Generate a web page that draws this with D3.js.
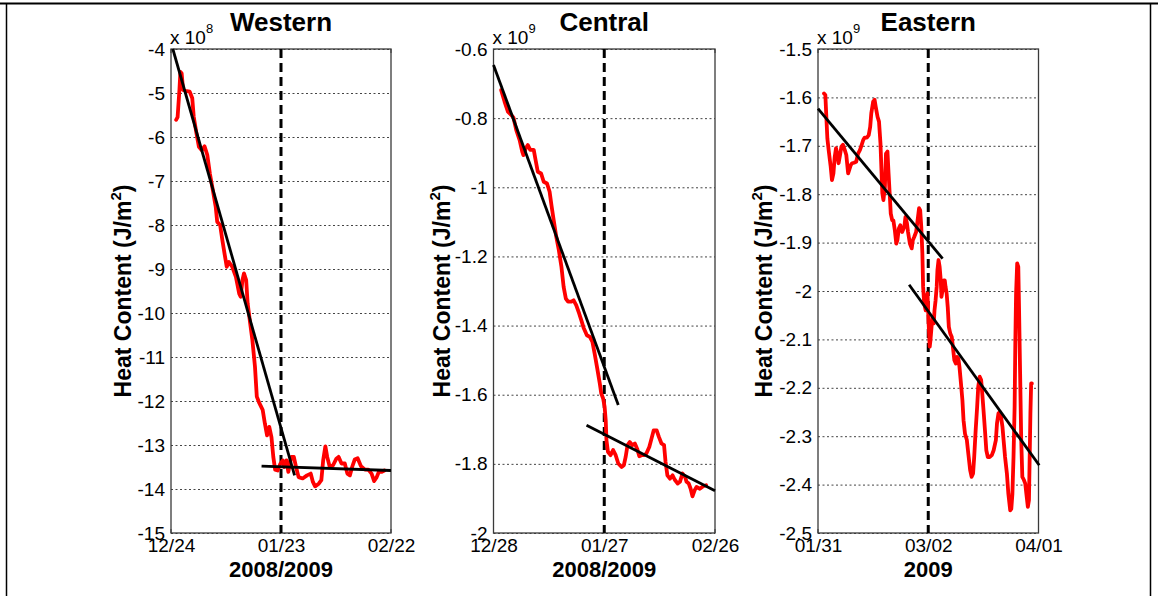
<!DOCTYPE html>
<html>
<head>
<meta charset="utf-8">
<script src="https://cdn.jsdelivr.net/npm/d3@7"></script>
<style>
  body { margin: 0; background: #fff; }
  svg { display: block; }
  text { font-family: "Liberation Sans", Arial, sans-serif; fill: #000; }
</style>
</head>
<body>
<svg id="chart" width="1158" height="596"></svg>
<script>
// Days since the start of each window (60-day windows), heat content in axis units
const westDays = [1.4, 1.8, 2.3, 2.56, 2.9, 3.3, 3.9, 5.1, 5.8, 6.2, 6.95, 7.6, 8.4, 9.15, 9.9, 10.6, 11.25, 12.2, 12.6, 13.4, 14.0, 14.6, 15.2, 15.8, 16.7, 17.7, 18.6, 19.0, 19.5, 19.9, 20.5, 20.9, 21.6, 22.2, 22.9, 23.4, 24.1, 25.0, 25.6, 26.2, 26.8, 27.4, 27.9, 28.4, 29.1, 29.8, 30.5, 30.9, 31.5, 32.0, 32.8, 33.5, 34.1, 34.8, 35.9, 37.1, 38.1, 38.7, 39.3, 40.3, 41.0, 41.5, 42.1, 42.6, 43.3, 44.2, 45.1, 45.7, 46.5, 47.4, 48.1, 48.8, 49.4, 50.1, 50.9, 51.8, 52.9, 53.8, 54.7, 55.4, 56.1, 56.7, 57.5, 58.2];
const westHeat = [-5.61, -5.55, -4.93, -4.52, -4.55, -4.93, -4.95, -4.97, -5.12, -5.54, -5.92, -6.22, -6.30, -6.21, -6.41, -6.83, -7.13, -7.59, -7.93, -8.0, -8.34, -8.65, -8.95, -8.84, -8.95, -9.18, -9.56, -9.63, -9.25, -9.1, -9.25, -9.78, -10.24, -10.62, -11.22, -11.9, -12.05, -12.2, -12.51, -12.78, -12.59, -12.82, -13.27, -13.56, -13.58, -13.43, -13.35, -13.5, -13.35, -13.61, -13.27, -13.27, -13.5, -13.73, -13.76, -13.69, -13.65, -13.84, -13.94, -13.88, -13.8, -13.35, -13.03, -13.27, -13.5, -13.46, -13.31, -13.27, -13.42, -13.42, -13.65, -13.69, -13.5, -13.33, -13.3, -13.48, -13.56, -13.56, -13.65, -13.82, -13.73, -13.61, -13.61, -13.58];

const centralDays = [2.08, 2.99, 3.9, 4.8, 5.4, 6.15, 7.06, 7.78, 8.1, 8.7, 9.3, 9.95, 10.9, 11.4, 12.0, 12.9, 13.6, 14.5, 15.2, 15.7, 16.3, 17.0, 17.7, 18.4, 19.0, 19.6, 20.2, 21.1, 21.7, 22.4, 23.2, 23.8, 24.4, 25.3, 26.1, 26.8, 27.4, 28.1, 28.8, 29.2, 29.7, 30.1, 30.4, 30.6, 31.0, 31.7, 32.4, 33.1, 33.8, 34.7, 35.3, 35.8, 36.3, 36.9, 37.6, 38.3, 38.9, 39.5, 40.1, 40.7, 41.4, 42.2, 42.8, 43.4, 44.2, 44.8, 45.5, 46.2, 46.6, 47.1, 47.8, 48.5, 49.1, 49.9, 50.5, 51.2, 51.9, 52.3, 52.9, 53.4, 53.9, 54.5, 55.0, 55.9, 56.8, 57.6];
const centralHeat = [-0.719, -0.752, -0.781, -0.791, -0.798, -0.834, -0.863, -0.897, -0.907, -0.888, -0.878, -0.892, -0.892, -0.921, -0.955, -0.96, -0.984, -0.989, -1.013, -1.052, -1.095, -1.143, -1.182, -1.23, -1.288, -1.322, -1.331, -1.331, -1.327, -1.341, -1.365, -1.385, -1.406, -1.428, -1.433, -1.447, -1.481, -1.524, -1.568, -1.597, -1.611, -1.635, -1.674, -1.732, -1.765, -1.775, -1.76, -1.775, -1.799, -1.809, -1.804, -1.78, -1.746, -1.737, -1.746, -1.741, -1.756, -1.778, -1.775, -1.775, -1.77, -1.751, -1.727, -1.703, -1.703, -1.722, -1.741, -1.746, -1.794, -1.833, -1.843, -1.833, -1.846, -1.857, -1.852, -1.828, -1.838, -1.852, -1.857, -1.872, -1.894, -1.876, -1.867, -1.872, -1.865, -1.862];

const eastDays = [1.64, 2.0, 2.27, 2.55, 2.9, 3.45, 3.8, 4.2, 4.55, 4.9, 5.3, 5.6, 6.0, 6.36, 6.8, 7.3, 7.7, 8.2, 8.5, 8.9, 9.3, 9.8, 10.4, 10.9, 11.4, 11.8, 12.3, 12.7, 13.3, 13.8, 14.2, 14.5, 15.0, 15.4, 15.7, 16.2, 16.6, 17.0, 17.3, 17.5, 17.8, 18.2, 18.5, 18.9, 19.2, 19.5, 19.8, 20.2, 20.5, 20.9, 21.3, 21.6, 22.0, 22.4, 22.9, 23.5, 23.8, 24.2, 24.5, 25.0, 25.5, 25.8, 26.2, 26.7, 27.1, 27.5, 27.8, 28.1, 28.4, 28.6, 28.9, 29.3, 29.5, 29.8, 30.1, 30.4, 30.6, 30.9, 31.2, 31.5, 31.7, 32.0, 32.3, 32.5, 32.8, 33.1, 33.4, 33.6, 33.9, 34.2, 34.5, 34.7, 35.0, 35.3, 35.6, 36.0, 36.4, 36.7, 37.1, 37.5, 37.8, 38.2, 38.5, 38.9, 39.3, 39.6, 40.0, 40.5, 40.9, 41.4, 41.8, 42.2, 42.5, 42.9, 43.3, 43.6, 44.0, 44.4, 44.7, 45.1, 45.5, 45.8, 46.2, 46.7, 47.3, 47.8, 48.4, 48.7, 49.1, 49.5, 49.8, 50.2, 50.5, 50.9, 51.4, 51.8, 52.3, 52.6, 52.9, 53.2, 53.5, 53.7, 53.9, 54.2, 54.5, 54.7, 55.0, 55.3, 55.6, 56.0, 56.4, 56.7, 57.1, 57.4, 57.6, 57.8, 58.0, 58.2];
const eastHeat = [-1.592, -1.595, -1.64, -1.685, -1.709, -1.743, -1.771, -1.757, -1.723, -1.705, -1.719, -1.736, -1.719, -1.702, -1.698, -1.709, -1.719, -1.757, -1.75, -1.74, -1.736, -1.735, -1.733, -1.716, -1.709, -1.7, -1.688, -1.683, -1.683, -1.678, -1.661, -1.633, -1.609, -1.605, -1.619, -1.64, -1.65, -1.695, -1.757, -1.798, -1.812, -1.785, -1.716, -1.712, -1.757, -1.798, -1.84, -1.854, -1.854, -1.874, -1.902, -1.895, -1.871, -1.864, -1.878, -1.867, -1.847, -1.86, -1.878, -1.902, -1.912, -1.895, -1.888, -1.878, -1.854, -1.829, -1.833, -1.867, -1.922, -1.991, -2.026, -2.04, -2.019, -2.005, -2.067, -2.115, -2.102, -2.074, -2.053, -2.067, -2.04, -2.019, -1.991, -1.957, -1.936, -1.95, -1.978, -2.012, -1.998, -1.978, -1.978, -1.991, -2.005, -2.033, -2.074, -2.088, -2.095, -2.115, -2.143, -2.15, -2.136, -2.14, -2.157, -2.191, -2.226, -2.267, -2.295, -2.308, -2.336, -2.37, -2.384, -2.377, -2.343, -2.288, -2.24, -2.198, -2.177, -2.184, -2.212, -2.253, -2.295, -2.329, -2.343, -2.343, -2.339, -2.329, -2.308, -2.274, -2.253, -2.25, -2.26, -2.281, -2.308, -2.343, -2.377, -2.419, -2.453, -2.45, -2.419, -2.343, -2.24, -2.102, -2.005, -1.943, -1.95, -2.033, -2.171, -2.308, -2.384, -2.39, -2.398, -2.419, -2.446, -2.432, -2.343, -2.253, -2.191, -2.191];

// Linear trend segments: [startDay, endDay] and [startValue, endValue]
const westFitDays = [[0.5, 33.7], [24.7, 60]];
const westFitHeat = [[-4.0, -13.69], [-13.48, -13.58]];
const centralFitDays = [[0, 33.8], [25.2, 60]];
const centralFitHeat = [[-0.646, -1.630], [-1.688, -1.878]];
const eastFitDays = [[0, 33.9], [24.8, 60.2]];
const eastFitHeat = [[-1.623, -1.933], [-1.987, -2.360]];

// Tick values and labels
const westYTicks = [-4, -5, -6, -7, -8, -9, -10, -11, -12, -13, -14, -15];
const westYLabels = ["-4", "-5", "-6", "-7", "-8", "-9", "-10", "-11", "-12", "-13", "-14", "-15"];
const centralYTicks = [-0.6, -0.8, -1.0, -1.2, -1.4, -1.6, -1.8, -2.0];
const centralYLabels = ["-0.6", "-0.8", "-1", "-1.2", "-1.4", "-1.6", "-1.8", "-2"];
const eastYTicks = [-1.5, -1.6, -1.7, -1.8, -1.9, -2.0, -2.1, -2.2, -2.3, -2.4, -2.5];
const eastYLabels = ["-1.5", "-1.6", "-1.7", "-1.8", "-1.9", "-2", "-2.1", "-2.2", "-2.3", "-2.4", "-2.5"];
const xTickDays = [0, 30, 60];
const westXLabels = ["12/24", "01/23", "02/22"];
const centralXLabels = ["12/28", "01/27", "02/26"];
const eastXLabels = ["01/31", "03/02", "04/01"];
const titles = ["Western", "Central", "Eastern"];
const yearLabels = ["2008/2009", "2008/2009", "2009"];
const exponents = ["8", "9", "9"];
const onsetDay = 30;

const panels = [
  { days: westDays, heat: westHeat, fitD: westFitDays, fitH: westFitHeat,
    yTicks: westYTicks, yLabels: westYLabels, xLabels: westXLabels,
    left: 171, right: 391, labelX: 131 },
  { days: centralDays, heat: centralHeat, fitD: centralFitDays, fitH: centralFitHeat,
    yTicks: centralYTicks, yLabels: centralYLabels, xLabels: centralXLabels,
    left: 493.5, right: 715, labelX: 450 },
  { days: eastDays, heat: eastHeat, fitD: eastFitDays, fitH: eastFitHeat,
    yTicks: eastYTicks, yLabels: eastYLabels, xLabels: eastXLabels,
    left: 818, right: 1038.5, labelX: 772 }
];

const plotTop = 49, plotBottom = 533;
const svg = d3.select("#chart");

// outer frame
svg.append("line").attr("x1", 0).attr("x2", 1158).attr("y1", 3.5).attr("y2", 3.5)
  .attr("stroke", "#000").attr("stroke-width", 2);
svg.append("line").attr("x1", 6.5).attr("x2", 6.5).attr("y1", 3).attr("y2", 596)
  .attr("stroke", "#000").attr("stroke-width", 1.5);
svg.append("line").attr("x1", 1150.5).attr("x2", 1150.5).attr("y1", 3).attr("y2", 596)
  .attr("stroke", "#000").attr("stroke-width", 1.5);

panels.forEach((p, i) => {
  const x = d3.scaleLinear().domain([0, 60]).range([p.left, p.right]);
  const yDom = [p.yTicks[p.yTicks.length - 1], p.yTicks[0]];
  const y = d3.scaleLinear().domain(yDom).range([plotBottom, plotTop]);
  const g = svg.append("g");

  // horizontal dotted grid
  g.append("g").attr("transform", `translate(${p.left},0)`)
    .call(d3.axisLeft(y).tickValues(p.yTicks).tickSize(-(p.right - p.left)).tickFormat(""))
    .call(a => a.select(".domain").remove())
    .call(a => a.selectAll("line").attr("stroke", "#444").attr("stroke-width", 1)
      .attr("stroke-dasharray", "2,2.5"));

  // y tick labels
  const yAx = g.append("g").attr("transform", `translate(${p.left},0)`)
    .call(d3.axisLeft(y).tickValues(p.yTicks).tickSize(0).tickPadding(6)
      .tickFormat((d, k) => p.yLabels[k]));
  yAx.select(".domain").remove();
  yAx.selectAll("text").attr("font-size", 19).attr("font-family", "Liberation Sans, Arial, sans-serif")
    .attr("fill", "#000");

  // x tick labels
  const xAx = g.append("g").attr("transform", `translate(0,${plotBottom})`)
    .call(d3.axisBottom(x).tickValues(xTickDays).tickSize(0).tickPadding(6)
      .tickFormat((d, k) => p.xLabels[k]));
  xAx.select(".domain").remove();
  xAx.selectAll("text").attr("font-size", 19).attr("font-family", "Liberation Sans, Arial, sans-serif")
    .attr("fill", "#000");

  // small inward x ticks
  xTickDays.forEach(d => {
    g.append("line").attr("x1", x(d)).attr("x2", x(d)).attr("y1", plotBottom).attr("y2", plotBottom - 4)
      .attr("stroke", "#333");
    g.append("line").attr("x1", x(d)).attr("x2", x(d)).attr("y1", plotTop).attr("y2", plotTop + 4)
      .attr("stroke", "#333");
  });

  // axes box
  g.append("rect").attr("x", p.left).attr("y", plotTop)
    .attr("width", p.right - p.left).attr("height", plotBottom - plotTop)
    .attr("fill", "none").attr("stroke", "#3a3a3a").attr("stroke-width", 1.3);

  // onset marker
  g.append("line").attr("x1", x(onsetDay)).attr("x2", x(onsetDay))
    .attr("y1", y(yDom[1])).attr("y2", y(yDom[0]))
    .attr("stroke", "#000").attr("stroke-width", 3).attr("stroke-dasharray", "9,5");

  // heat content series
  const line = d3.line().x((d, k) => x(p.days[k])).y(d => y(d));
  g.append("path").datum(p.heat).attr("d", line)
    .attr("fill", "none").attr("stroke", "#ff0000").attr("stroke-width", 3.8)
    .attr("stroke-linejoin", "round").attr("stroke-linecap", "round");

  // trend lines
  p.fitD.forEach((seg, k) => {
    g.append("line")
      .attr("x1", x(seg[0])).attr("x2", x(seg[1]))
      .attr("y1", y(p.fitH[k][0])).attr("y2", y(p.fitH[k][1]))
      .attr("stroke", "#000").attr("stroke-width", 2.8);
  });

  const cx = (p.left + p.right) / 2;
  // title
  g.append("text").attr("x", cx).attr("y", 31).attr("text-anchor", "middle")
    .attr("font-size", 26).attr("font-weight", "bold").text(titles[i]);

  // exponent label
  const ex = g.append("text").attr("x", p.left - 1).attr("y", 44).attr("font-size", 19);
  ex.append("tspan").text("x 10");
  ex.append("tspan").attr("font-size", 13).attr("dy", -11).text(exponents[i]);

  // x axis label
  g.append("text").attr("x", cx).attr("y", 577).attr("text-anchor", "middle")
    .attr("font-size", 22).attr("font-weight", "bold").text(yearLabels[i]);

  // y axis label
  const yl = g.append("text")
    .attr("transform", `translate(${p.labelX},${(plotTop + plotBottom) / 2}) rotate(-90)`)
    .attr("text-anchor", "middle").attr("font-size", 23).attr("font-weight", "bold");
  yl.append("tspan").text("Heat Content (J/m");
  yl.append("tspan").attr("font-size", 15).attr("dy", -10).text("2");
  yl.append("tspan").attr("dy", 10).text(")");
});
</script>
</body>
</html>
